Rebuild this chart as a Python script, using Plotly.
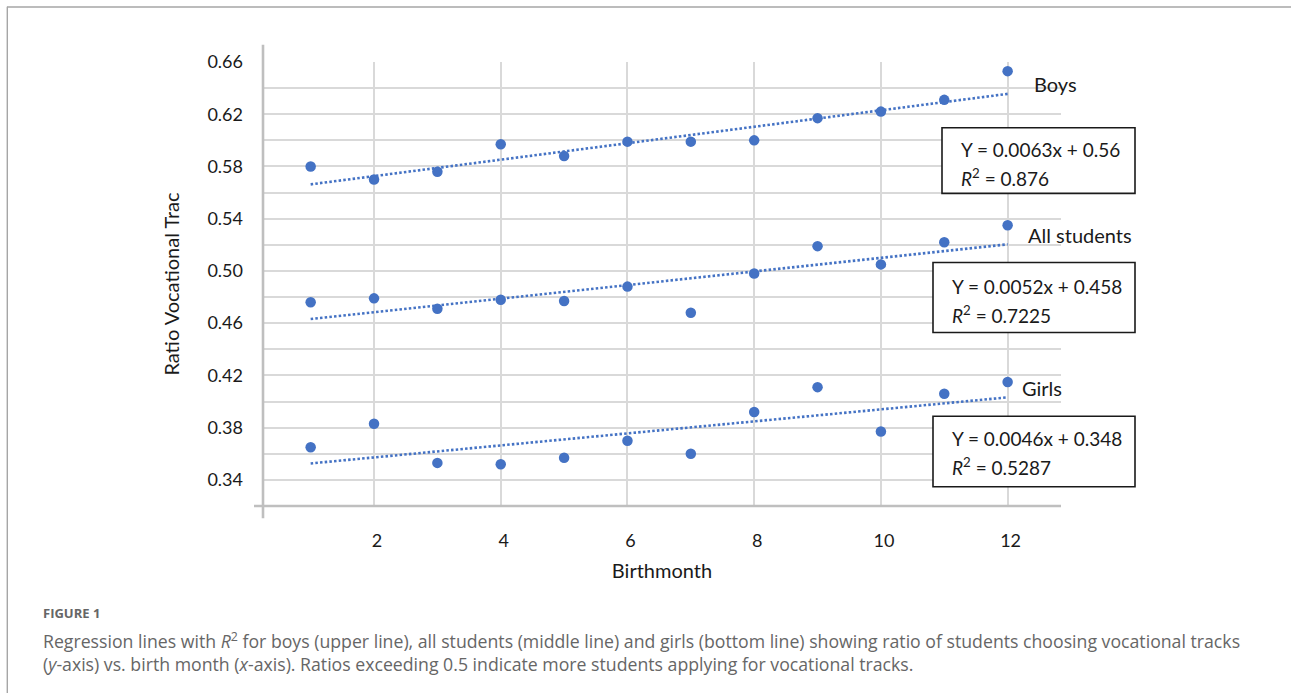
import plotly.graph_objects as go

# ---------------- data ----------------
months = [1, 2, 3, 4, 5, 6, 7, 8, 9, 10, 11, 12]
boys = [0.580, 0.570, 0.576, 0.597, 0.588, 0.599, 0.599, 0.600, 0.617, 0.622, 0.631, 0.653]
all_students = [0.476, 0.479, 0.471, 0.478, 0.477, 0.488, 0.468, 0.498, 0.519, 0.505, 0.522, 0.535]
girls = [0.365, 0.383, 0.353, 0.352, 0.357, 0.370, 0.360, 0.392, 0.411, 0.377, 0.406, 0.415]

group_names = ["Boys", "All students", "Girls"]
slopes = [0.0063, 0.0052, 0.0046]
intercepts = [0.56, 0.458, 0.348]
eq_texts = ["Y = 0.0063x + 0.56", "Y = 0.0052x + 0.458", "Y = 0.0046x + 0.348"]
r2_texts = ["0.876", "0.7225", "0.5287"]

x_ticks = [2, 4, 6, 8, 10, 12]

# ---------------- geometry helpers (pixel -> paper) ----------------
W_FIG, H_FIG = 1291, 693
L, R, T, B = 263, 1061, 62.3, 505.7
PW, PH = R - L, B - T


def PX(x):
    return (x - L) / PW


def PY(y):
    return (B - y) / PH


BLUE = "#4472C4"
FONT = "Lato"
TXT = "#1a1a1a"

fig = go.Figure()

series = [boys, all_students, girls]
for name, vals, m, c in zip(group_names, series, slopes, intercepts):
    x_line = [months[0], months[-1]]
    y_line = [m * xv + c for xv in x_line]
    fig.add_trace(go.Scatter(
        x=x_line, y=y_line, mode="lines",
        line=dict(color=BLUE, width=2.6, dash="2.5px,2.2px"),
        showlegend=False, hoverinfo="skip"))
    fig.add_trace(go.Scatter(
        x=months, y=vals, mode="markers", name=name,
        marker=dict(color=BLUE, size=10.5),
        showlegend=False))

# x range derived from gridline pixel positions
x_per_px = 63.36
x0_px = 247.3
x_range = [(L - x0_px) / x_per_px, (R - x0_px) / x_per_px]

fig.update_layout(
    width=W_FIG, height=H_FIG, autosize=False,
    margin=dict(l=L, r=W_FIG - R, t=T, b=H_FIG - B, pad=0),
    paper_bgcolor="white", plot_bgcolor="white",
    font=dict(family=FONT, color=TXT, size=18),
    xaxis=dict(
        range=x_range, tickvals=x_ticks, ticktext=[str(v) for v in x_ticks],
        showgrid=True, gridcolor="#d9d9d9", gridwidth=1.6,
        zeroline=False, showline=False, ticks="",
        ticklabelstandoff=22, ticklabelshift=3,
        tickfont=dict(family=FONT, size=18, color=TXT),
        title=dict(text="Birthmonth", font=dict(family=FONT, size=20, color=TXT), standoff=13),
    ),
    yaxis=dict(
        range=[0.32, 0.66], tick0=0.34, dtick=0.04, tickformat=".2f",
        showgrid=True, gridcolor="#d9d9d9", gridwidth=1.6,
        minor=dict(dtick=0.02, tick0=0.32, showgrid=True, gridcolor="#d9d9d9", gridwidth=1.6),
        zeroline=False, showline=False, ticks="",
        ticklabelstandoff=19,
        tickfont=dict(family=FONT, size=18, color=TXT),
        title=dict(text="Ratio Vocational Trac", font=dict(family=FONT, size=20, color=TXT), standoff=22),
    ),
)

shapes = []
# axis lines with Excel-style stubs
shapes.append(dict(type="line", xref="paper", yref="paper",
                   x0=PX(263), x1=PX(263), y0=PY(518), y1=PY(45),
                   line=dict(color="#bfbfbf", width=2.6), layer="above"))
shapes.append(dict(type="line", xref="paper", yref="paper",
                   x0=PX(254), x1=PX(1061), y0=PY(505.7), y1=PY(505.7),
                   line=dict(color="#bfbfbf", width=2.6), layer="above"))

# equation boxes (pixel geometry)
boxes = [(942, 128, 1135, 193.5), (933, 262.5, 1135, 332.5), (933, 416, 1135, 486.5)]
text_left = [959, 950, 950]
eq_y = [150, 286, 438]
r2_y = [178, 314, 466]
for (x0, y0, x1, y1) in boxes:
    shapes.append(dict(type="rect", xref="paper", yref="paper",
                       x0=PX(x0), x1=PX(x1), y0=PY(y1), y1=PY(y0),
                       line=dict(color="#1a1a1a", width=1.6), fillcolor="white",
                       layer="above"))

# figure frame (top and left)
shapes.append(dict(type="line", xref="paper", yref="paper",
                   x0=PX(7), x1=PX(1295), y0=PY(7.3), y1=PY(7.3),
                   line=dict(color="#a6a6a6", width=1.4)))
shapes.append(dict(type="line", xref="paper", yref="paper",
                   x0=PX(7.3), x1=PX(7.3), y0=PY(7), y1=PY(700),
                   line=dict(color="#a6a6a6", width=1.4)))
fig.update_layout(shapes=shapes)

ann = []
for i in range(3):
    ann.append(dict(xref="paper", yref="paper", x=PX(text_left[i]), y=PY(eq_y[i]),
                    xanchor="left", yanchor="middle", showarrow=False,
                    text=eq_texts[i], font=dict(family=FONT, size=19, color=TXT)))
    ann.append(dict(xref="paper", yref="paper", x=PX(text_left[i]), y=PY(r2_y[i]),
                    xanchor="left", yanchor="middle", showarrow=False,
                    text="<i>R</i><sup>2</sup> = " + r2_texts[i],
                    font=dict(family=FONT, size=19, color=TXT)))

label_pos = [(1032, 84), (1026, 235), (1020, 388)]
for name, (lx, ly) in zip(group_names, label_pos):
    ann.append(dict(xref="paper", yref="paper", x=PX(lx), y=PY(ly),
                    xanchor="left", yanchor="middle", showarrow=False,
                    text=name, font=dict(family=FONT, size=20, color=TXT)))

# caption
CAP = "Open Sans"
ann.append(dict(xref="paper", yref="paper", x=PX(41), y=PY(613),
                xanchor="left", yanchor="middle", showarrow=False,
                text="<b>FIGURE 1</b>", font=dict(family=CAP, size=13, color="#666666")))
ann.append(dict(xref="paper", yref="paper", x=PX(41), y=PY(640),
                xanchor="left", yanchor="middle", showarrow=False,
                text="Regression lines with <i>R</i><sup>2</sup> for boys (upper line), all students (middle line) and girls (bottom line) showing ratio of students choosing vocational tracks",
                font=dict(family=CAP, size=17.7, color="#666666")))
ann.append(dict(xref="paper", yref="paper", x=PX(41), y=PY(663),
                xanchor="left", yanchor="middle", showarrow=False,
                text="(<i>y</i>-axis) vs. birth month (<i>x</i>-axis). Ratios exceeding 0.5 indicate more students applying for vocational tracks.",
                font=dict(family=CAP, size=17.7, color="#666666")))
fig.update_layout(annotations=ann)

fig.write_html("out.html",
               config={"displayModeBar": False},
               post_script="document.body.style.margin='0';document.body.style.overflow='hidden';")
